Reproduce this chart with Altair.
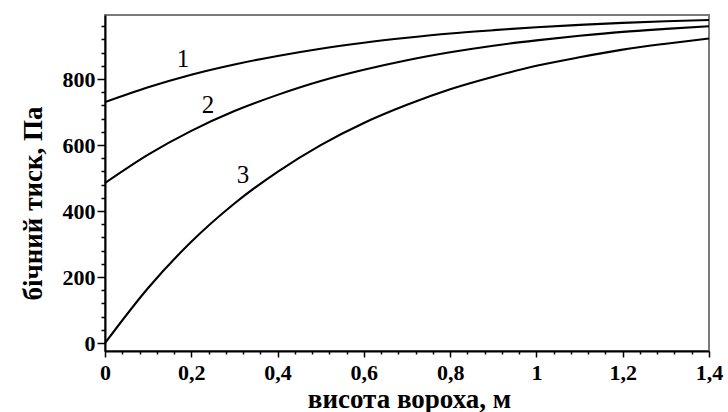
import altair as alt
import pandas as pd

# Height of the heap, m
height_m = [0.0, 0.1, 0.2, 0.3, 0.4, 0.5, 0.6, 0.7, 0.8, 0.9, 1.0, 1.1, 1.2, 1.3, 1.4]

# Lateral pressure, Pa, for the three cases
pressure_1 = [730, 775, 813, 844, 870, 892, 910, 925, 938, 948, 957, 964, 970, 975, 979]
pressure_2 = [485, 571, 643, 703, 752, 794, 828, 857, 881, 901, 917, 931, 943, 952, 960]
pressure_3 = [0, 167, 307, 423, 519, 600, 667, 722, 769, 807, 840, 866, 889, 907, 923]

# Curve numbers and where they are written
curve_names = ["1", "2", "3"]
label_x = [0.181, 0.239, 0.320]
label_y = [836, 697, 485]

rows = []
for name, series in zip(curve_names, [pressure_1, pressure_2, pressure_3]):
    for h, p in zip(height_m, series):
        rows.append({"h": h, "p": p, "curve": name})
curves = pd.DataFrame(rows)
labels = pd.DataFrame({"h": label_x, "p": label_y, "text": curve_names})

FONT = "Liberation Serif"

x_scale = alt.Scale(domain=[0, 1.4], nice=False, zero=False)
y_scale = alt.Scale(domain=[-24, 994], nice=False, zero=False)

# every tick position; every 5th one is a labelled major tick
x_ticks = [round(i * 0.04, 2) for i in range(36)]
y_ticks = [i * 40 for i in range(25)]

x_is_major = "abs(datum.value * 5 - round(datum.value * 5)) < 1e-6"
y_is_major = "datum.value % 200 === 0"

common = dict(
    grid=False,
    tickCount=500,
    tickColor="black",
    domainColor="black",
    tickWidth=1.5,
    domainWidth=2,
    labelFont=FONT,
    titleFont=FONT,
    labelColor="black",
    titleColor="black",
    labelFontWeight="bold",
    titleFontWeight="bold",
    labelFontSize=22,
    labelOverlap=False,
    labelFlush=False,
)

x_axis = alt.Axis(
    orient="bottom",
    values=x_ticks,
    tickSize={"condition": {"test": x_is_major, "value": 6}, "value": 3},
    labelPadding=5,
    labelExpr=f"({x_is_major}) ? replace(format(datum.value, '.1~f'), '.', ',') : ''",
    title="висота вороха, м",
    titleFontSize=27,
    titleX=304,
    titleY=56,
    titleBaseline="alphabetic",
    **common,
)
y_axis = alt.Axis(
    orient="left",
    values=y_ticks,
    tickSize={"condition": {"test": y_is_major, "value": 8}, "value": 4},
    labelPadding=2,
    labelBaseline="middle",
    labelExpr=f"({y_is_major}) && datum.value <= 800 ? format(datum.value, 'd') : ''",
    title="бічний тиск, Па",
    titleFontSize=27,
    titleX=-64,
    titleY=188,
    titleBaseline="alphabetic",
    titleAngle=270,
    **common,
)

lines = alt.Chart(curves).mark_line(
    color="black", strokeWidth=2.1, interpolate="monotone"
).encode(
    x=alt.X("h:Q", scale=x_scale, axis=x_axis),
    y=alt.Y("p:Q", scale=y_scale, axis=y_axis),
    detail="curve:N",
)

texts = alt.Chart(labels).mark_text(
    font=FONT, fontSize=25, color="black", align="center", baseline="alphabetic"
).encode(
    x=alt.X("h:Q", scale=x_scale),
    y=alt.Y("p:Q", scale=y_scale),
    text="text:N",
)

chart = (
    alt.layer(lines, texts)
    .properties(
        width=604,
        height=336,
        autosize=alt.AutoSizeParams(type="none"),
        padding={"left": 105, "top": 15, "right": 19, "bottom": 61},
        background="white",
    )
    .configure(font=FONT)
    .configure_view(stroke="#7a7a7a", strokeWidth=2)
)

chart.save("out.html", embed_options={"renderer": "svg", "actions": False})
